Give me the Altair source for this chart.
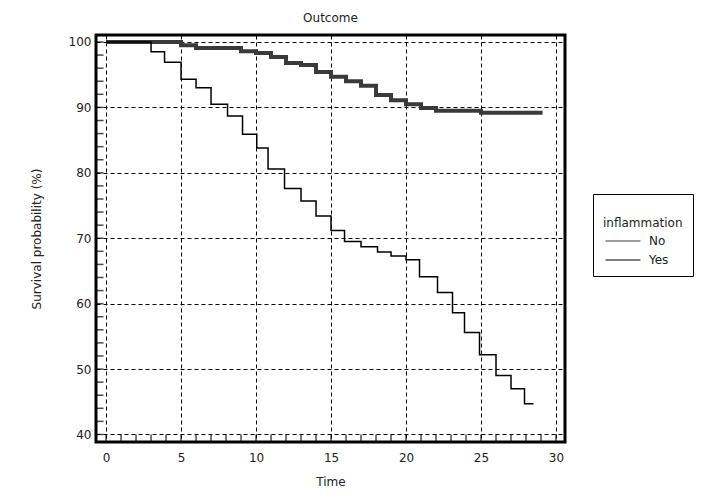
import altair as alt
import pandas as pd

# Kaplan-Meier steps
no_time = [0, 5, 6, 9, 10, 11, 12, 13, 14, 15, 16, 17, 18, 19, 20, 21, 22, 25, 29.1]
no_surv = [100, 99.5, 99.1, 98.6, 98.3, 97.7, 96.8, 96.5, 95.4, 94.7, 94.0, 93.3,
           91.9, 91.1, 90.5, 89.9, 89.5, 89.2, 89.2]
yes_time = [0, 3.0, 3.9, 5.0, 6.0, 7.0, 8.1, 9.1, 10.05, 10.8, 11.9, 13.0, 14.0, 15.0,
            15.9, 17.0, 18.1, 19.0, 20.0, 20.9, 22.1, 23.1, 23.9, 24.9, 26.0, 27.0, 27.9, 28.5]
yes_surv = [100, 98.5, 96.9, 94.3, 93.0, 90.5, 88.7, 85.9, 83.8, 80.6, 77.6, 75.7, 73.4,
            71.2, 69.5, 68.7, 67.9, 67.3, 66.7, 64.1, 61.7, 58.6, 55.6, 52.2, 49.0, 47.0,
            44.7, 44.7]
groups = ["No", "Yes"]
x_ticks = [0, 5, 10, 15, 20, 25, 30]
y_ticks = [40, 50, 60, 70, 80, 90, 100]
x_minor = list(range(0, 31))
y_minor = list(range(40, 101, 2))

rows = [{"Time": t, "Survival": s, "inflammation": "No"} for t, s in zip(no_time, no_surv)]
rows += [{"Time": t, "Survival": s, "inflammation": "Yes"} for t, s in zip(yes_time, yes_surv)]
df = pd.DataFrame(rows)

W, H = 469, 407
FONT = "DejaVu Sans"
TXT = "#222222"

xs = alt.Scale(domain=[-0.67, 30.6], nice=False, zero=False)
ys = alt.Scale(domain=[38.85, 101.07], nice=False, zero=False)

x_axis = alt.Axis(values=x_ticks, format="d", grid=True, gridDash=[4, 3],
                  gridColor="black", gridWidth=1, domain=False, ticks=False,
                  labelPadding=10, title="Time", titlePadding=13)
y_axis = alt.Axis(values=y_ticks, format="d", grid=True, gridDash=[4, 3],
                  gridColor="black", gridWidth=1, domain=False, ticks=False,
                  labelPadding=5, title="Survival probability (%)", titlePadding=25)

color = alt.Color("inflammation:N",
                  scale=alt.Scale(domain=groups, range=["#3a3a3a", "#000000"]),
                  legend=alt.Legend(orient="none", legendX=497, legendY=159,
                                    title=["", "inflammation"], titleLineHeight=14,
                                    titlePadding=5, padding=10,
                                    strokeColor="black", fillColor="white",
                                    symbolType="M-3.5,0L3.5,0", symbolSize=100,
                                    symbolStrokeWidth=1.2, symbolOffset=14,
                                    labelOffset=20, rowPadding=7))

base = alt.Chart(df).encode(
    x=alt.X("Time:Q", scale=xs, axis=x_axis),
    y=alt.Y("Survival:Q", scale=ys, axis=y_axis),
    color=color,
)
no_line = base.transform_filter(alt.datum.inflammation == "No").mark_line(
    interpolate="step-after", strokeWidth=4, clip=True)
yes_line = base.transform_filter(alt.datum.inflammation == "Yes").mark_line(
    interpolate="step-after", strokeWidth=1.5, clip=True)

yminor = alt.Chart(pd.DataFrame({"Survival": y_minor})).mark_tick(
    orient="horizontal", size=7, thickness=1.5, color="black").encode(
    y=alt.Y("Survival:Q", scale=ys, axis=y_axis), x=alt.value(4))

xminor = alt.Chart(pd.DataFrame({"Time": x_minor})).mark_tick(
    orient="vertical", size=7, thickness=1.5, color="black").encode(
    x=alt.X("Time:Q", scale=xs, axis=x_axis), y=alt.value(H - 4))

chart = alt.layer(no_line, yes_line, yminor, xminor).properties(
    width=W, height=H,
    title=alt.TitleParams("Outcome", fontSize=12, fontWeight="normal", font=FONT,
                          color=TXT, offset=10),
    autosize=alt.AutoSizeParams(type="none"),
    padding={"left": 88, "top": 27, "right": 142, "bottom": 48},
).configure_view(stroke="black", strokeWidth=3).configure_axis(
    labelFont=FONT, labelFontSize=12, labelColor=TXT,
    titleFont=FONT, titleFontSize=12, titleColor=TXT, titleFontWeight="normal",
).configure_legend(
    labelFont=FONT, labelFontSize=12, labelColor=TXT,
    titleFont=FONT, titleFontSize=12, titleColor=TXT, titleFontWeight="normal",
)

chart.save("out.html", embed_options={"renderer": "svg", "actions": False})
